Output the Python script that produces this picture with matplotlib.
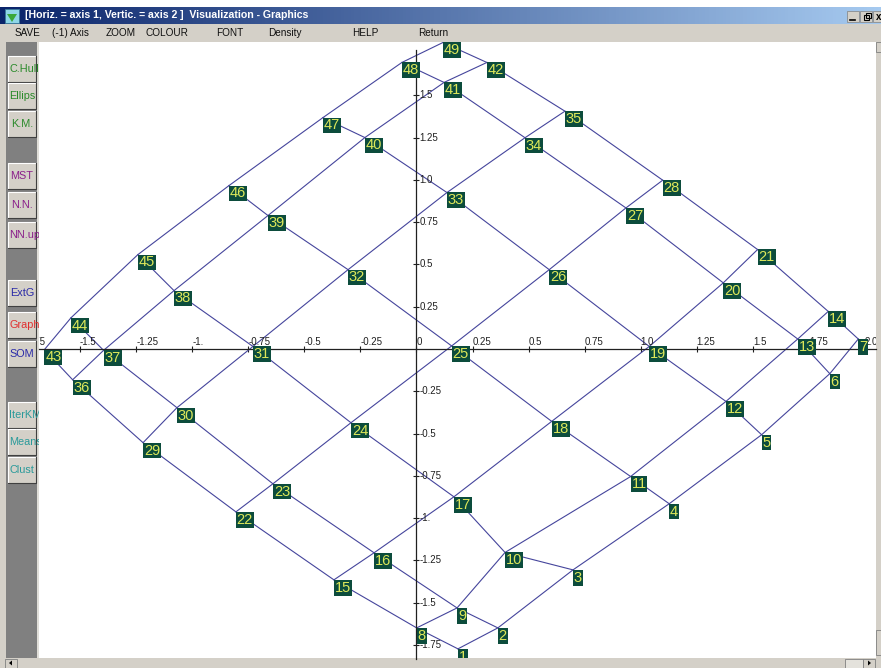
import numpy as np
import matplotlib
matplotlib.use("Agg")
import matplotlib.pyplot as plt
from matplotlib import font_manager
from matplotlib.patches import Rectangle, Polygon
import matplotlib.transforms as mtransforms

# SOM node positions (horizontal = axis 1, vertical = axis 2), nodes 1..49 on a 7x7 grid
node_x = [0.185, 0.363, 0.698, 1.127, 1.539, 1.843, 1.970,
          0.001, 0.181, 0.395, 0.955, 1.380, 1.700, 1.836,
          -0.368, -0.189, 0.167, 0.603, 1.038, 1.368, 1.521,
          -0.805, -0.640, -0.292, 0.157, 0.592, 0.934, 1.098,
          -1.219, -1.068, -0.729, -0.305, 0.136, 0.484, 0.662,
          -1.533, -1.395, -1.081, -0.662, -0.230, 0.123, 0.314,
          -1.659, -1.540, -1.242, -0.836, -0.417, -0.065, 0.118]
node_y = [-1.773, -1.649, -1.306, -0.915, -0.507, -0.146, 0.059,
          -1.649, -1.531, -1.203, -0.754, -0.310, 0.059, 0.222,
          -1.365, -1.205, -0.874, -0.428, 0.015, 0.391, 0.588,
          -0.963, -0.797, -0.436, 0.018, 0.469, 0.834, 0.998,
          -0.554, -0.347, 0.015, 0.469, 0.925, 1.249, 1.406,
          -0.182, -0.008, 0.345, 0.789, 1.250, 1.576, 1.694,
          -0.004, 0.185, 0.558, 0.966, 1.368, 1.694, 1.812]
grid_n = 7

xtick_vals = [-1.75, -1.5, -1.25, -1.0, -0.75, -0.5, -0.25, 0, 0.25, 0.5, 0.75, 1.0, 1.25, 1.5, 1.75, 2.0]
xtick_labels = ["-1.75", "-1.5", "-1.25", "-1.", "-0.75", "-0.5", "-0.25", "0",
                "0.25", "0.5", "0.75", "1.0", "1.25", "1.5", "1.75", "2.0"]
ytick_vals = [1.5, 1.25, 1.0, 0.75, 0.5, 0.25, -0.25, -0.5, -0.75, -1.0, -1.25, -1.5, -1.75]
ytick_labels = ["1.5", "1.25", "1.0", "0.75", "0.5", "0.25", "-0.25", "-0.5",
                "-0.75", "-1.", "-1.25", "-1.5", "-1.75"]

title = "[Horiz. = axis 1, Vertic. = axis 2 ]  Visualization - Graphics"
menu_items = ["SAVE", "(-1) Axis", "ZOOM", "COLOUR", "FONT", "Density", "HELP", "Return"]
menu_x = [15, 52, 106, 146, 216, 268, 352, 418]

buttons = ["C.Hull", "Ellips", "K.M.", "MST", "N.N.", "NN.up", "ExtG", "Graph", "SOM",
           "IterKM", "Means", "Clust"]
button_top = [56, 83, 111, 163, 192, 222, 280, 312, 341, 402, 429, 457]
button_colors = ["#2a8a2a", "#2a8a2a", "#2a8a2a", "#8a1f8a", "#8a1f8a", "#8a1f8a",
                 "#2a2aa8", "#e03030", "#2a2aa8", "#2a9a9a", "#2a9a9a", "#2a9a9a"]

names = {f.name for f in font_manager.fontManager.ttflist}
narrow = "Liberation Sans Narrow" if "Liberation Sans Narrow" in names else "Liberation Sans"
plt.rcParams["font.family"] = ["Liberation Sans", "DejaVu Sans"]

W, H = 881, 668
fig = plt.figure(figsize=(W / 100, H / 100), dpi=100)
fig.patch.set_facecolor("white")

# window chrome, drawn in pixel coordinates
bg = fig.add_axes([0, 0, 1, 1])
bg.set_xlim(0, W)
bg.set_ylim(H, 0)
bg.axis("off")

grad = np.linspace(0, 1, 256)[None, :]
cmap = matplotlib.colors.LinearSegmentedColormap.from_list("tb", ["#0a246a", "#a6caf0"])
bg.imshow(grad, cmap=cmap, extent=[0, W, 24, 7], aspect="auto", zorder=1)
bg.add_patch(Rectangle((5, 9), 14, 14, fc="#8fd6e8", ec="#3a7a9a", lw=0.6, zorder=2))
bg.add_patch(Polygon([[7, 14], [12, 22], [17, 14]], closed=True, fc="#3aa83a", ec="none", zorder=3))
bg.text(25, 15.5, title, color="white", fontsize=7.6, fontweight="bold", va="center", ha="left", zorder=3)
for bx in [847, 860, 873]:
    bg.add_patch(Rectangle((bx, 11), 12, 11, fc="#d4d0c8", ec="#808080", lw=0.5, zorder=3))
bg.plot([850, 855], [19.5, 19.5], color="black", lw=1.2, zorder=4)
bg.add_patch(Rectangle((864, 15), 5, 5, fc="none", ec="black", lw=0.8, zorder=4))
bg.add_patch(Rectangle((866, 13), 5, 5, fc="none", ec="black", lw=0.8, zorder=4))
bg.text(876, 16.5, "x", fontsize=7, fontweight="bold", va="center", ha="left", zorder=4)

bg.add_patch(Rectangle((0, 24), W, 17.5, fc="#d4d0c8", ec="none", zorder=1))
for s, mx in zip(menu_items, menu_x):
    bg.text(mx, 33, s, fontsize=7.2, va="center", ha="left", color="#101010", zorder=2)

# left tool panel
bg.add_patch(Rectangle((0, 41.5), 6, 617, fc="#d4d0c8", ec="none", zorder=1))
bg.add_patch(Rectangle((6, 41.5), 31, 617, fc="#808080", ec="none", zorder=1))
bg.add_patch(Rectangle((37, 41.5), 2, 617, fc="#e0ded8", ec="none", zorder=1))
renderer = fig.canvas.get_renderer()
for s, top, c in zip(buttons, button_top, button_colors):
    rect = Rectangle((8, top), 28, 26, fc="#d4d0c8", ec="none", zorder=2)
    bg.add_patch(rect)
    bg.plot([8, 8, 36], [top + 26, top, top], color="white", lw=0.8, zorder=3)
    bg.plot([8, 36, 36], [top + 26, top + 26, top], color="#404040", lw=0.8, zorder=3)
    t = bg.text(22, top + 13, s, fontsize=7.8, color=c, va="center", ha="center", zorder=4)
    w = t.get_window_extent(renderer).width
    if w > 25:
        t.set_ha("left")
        t.set_x(9.5)
    t.set_clip_path(rect)

# scrollbars
bg.add_patch(Rectangle((0, 658), W, 10, fc="#d4d0c8", ec="none", zorder=1))
bg.add_patch(Rectangle((5, 658.5), 12, 9.5, fc="#d4d0c8", ec="#808080", lw=0.6, zorder=2))
bg.add_patch(Polygon([[9, 663], [12, 660.5], [12, 665.5]], fc="black", ec="none", zorder=3))
bg.add_patch(Rectangle((845, 658.5), 18, 9.5, fc="#e4e2dc", ec="#808080", lw=0.6, zorder=2))
bg.add_patch(Rectangle((863, 658.5), 12, 9.5, fc="#d4d0c8", ec="#808080", lw=0.6, zorder=2))
bg.add_patch(Polygon([[871, 663], [868, 660.5], [868, 665.5]], fc="black", ec="none", zorder=3))
bg.add_patch(Rectangle((876, 41.5), 5, 617, fc="#d4d0c8", ec="none", zorder=1))
bg.add_patch(Rectangle((876, 42), 5, 10, fc="#d4d0c8", ec="#808080", lw=0.6, zorder=2))
bg.add_patch(Rectangle((876, 630), 5, 25, fc="#d4d0c8", ec="#808080", lw=0.6, zorder=2))

# plot area
left, right, top, bottom = 39, 876, 41.5, 658
ax = fig.add_axes([left / W, (H - bottom) / H, (right - left) / W, (bottom - top) / H])
ax.set_facecolor("white")
for sp in ["left", "bottom"]:
    ax.spines[sp].set_visible(False)
ax.spines["top"].set_position(("data", 0))
ax.spines["right"].set_position(("data", 0))
ax.spines["right"].set_bounds(-1.83, 1.77)
for sp in ["top", "right"]:
    ax.spines[sp].set_linewidth(0.9)
    ax.spines[sp].set_color("#202020")
ax.xaxis.set_ticks_position("top")
ax.yaxis.set_ticks_position("right")
ax.set_xticks(xtick_vals)
ax.set_yticks(ytick_vals)
ax.set_xlim(-1.683, 2.049)
ax.set_ylim(-1.827, 1.818)
ax.tick_params(axis="both", direction="inout", length=4.5, width=0.8, color="#202020",
               labeltop=False, labelbottom=False, labelleft=False, labelright=False)

xoff = mtransforms.offset_copy(ax.transData, fig=fig, x=0, y=2, units="dots")
for v, s in zip(xtick_vals, xtick_labels):
    ax.text(v, 0, s, transform=xoff, ha="left", va="bottom", fontsize=7,
            color="#202020", clip_on=True)
yoff = mtransforms.offset_copy(ax.transData, fig=fig, x=3, y=0, units="dots")
for v, s in zip(ytick_vals, ytick_labels):
    ax.text(0, v, s, transform=yoff, ha="left", va="center", fontsize=7,
            color="#202020", clip_on=True)

xs = np.array(node_x)
ys = np.array(node_y)
line_color = "#45459c"
for r in range(grid_n):
    idx = np.arange(r * grid_n, (r + 1) * grid_n)
    ax.plot(xs[idx], ys[idx], color=line_color, lw=0.8, zorder=2)
for c in range(grid_n):
    idx = np.arange(c, grid_n * grid_n, grid_n)
    ax.plot(xs[idx], ys[idx], color=line_color, lw=0.8, zorder=2)

for i, (x, y) in enumerate(zip(xs, ys)):
    ax.annotate(str(i + 1), (x, y), xytext=(0.6, -0.6), textcoords="offset points",
                ha="left", va="top", fontsize=10.5, family=narrow, color="#dde85a",
                bbox=dict(boxstyle="square,pad=0.06", fc="#0c4c3c", ec="none"),
                zorder=5, clip_on=True)

fig.savefig("out.png", dpi=100)
